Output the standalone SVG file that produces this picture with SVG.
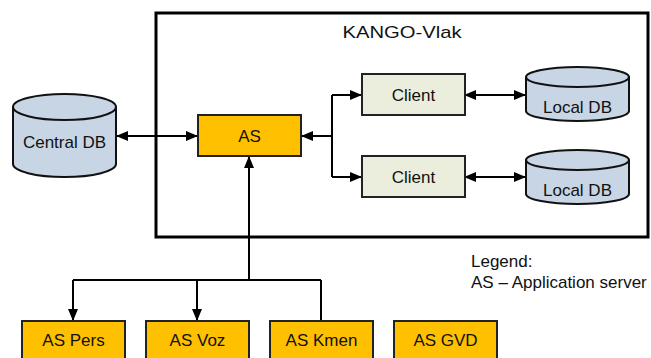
<svg xmlns="http://www.w3.org/2000/svg" width="651" height="358" viewBox="0 0 651 358">
<style>
text{font-family:"Liberation Sans",Arial,sans-serif;font-size:17px;fill:#111;}
.c{text-anchor:middle;}
.as{fill:#FFC000;stroke:#222;stroke-width:2;}
.cl{fill:#EBEEDC;stroke:#222;stroke-width:2;}
.db{fill:#C8D5E5;stroke:#111;stroke-width:2;}
.ln{fill:none;stroke:#000;stroke-width:2;}
</style>
<defs>
<marker id="ah" markerUnits="userSpaceOnUse" markerWidth="12" markerHeight="10" refX="11" refY="5" orient="auto-start-reverse">
<path d="M0,0 L12,5 L0,10 z" fill="#000"/>
</marker>
</defs>
<rect id="frame" x="156" y="13" width="492" height="224" fill="#fff" stroke="#000" stroke-width="3"/>
<text x="402" y="38" class="c" font-size="19" textLength="119" lengthAdjust="spacingAndGlyphs">KANGO-Vlak</text>
<g id="connectors">
<path class="ln" d="M117,136 L197,136" marker-start="url(#ah)" marker-end="url(#ah)"/>
<path class="ln" d="M332,136 L302,136" marker-end="url(#ah)"/>
<path class="ln" d="M332,95 L332,177"/>
<path class="ln" d="M332,95 L361,95" marker-end="url(#ah)"/>
<path class="ln" d="M332,177 L361,177" marker-end="url(#ah)"/>
<path class="ln" d="M465,95 L525,95" marker-start="url(#ah)" marker-end="url(#ah)"/>
<path class="ln" d="M465,177 L525,177" marker-start="url(#ah)" marker-end="url(#ah)"/>
<path class="ln" d="M249,280 L249,157" marker-end="url(#ah)"/>
<path class="ln" d="M73,280 L321,280"/>
<path class="ln" d="M73,280 L73,320" marker-end="url(#ah)"/>
<path class="ln" d="M197,280 L197,320" marker-end="url(#ah)"/>
<path class="ln" d="M321,280 L321,321"/>
</g>
<g id="central-db">
<path class="db" d="M13,107 L13,164 A51.5,13 0 0 0 116,164 L116,107 A51.5,13 0 0 0 13,107 Z"/>
<path class="db" d="M13,107 A51.5,13 0 0 0 116,107" fill="none"/>
<text x="64.5" y="148" class="c">Central DB</text>
</g>
<g id="as">
<rect class="as" x="198" y="115" width="103" height="41"/>
<text x="249.5" y="142" class="c">AS</text>
</g>
<g id="client1">
<rect class="cl" x="362" y="74" width="103" height="41"/>
<text x="413.5" y="101" class="c">Client</text>
</g>
<g id="client2">
<rect class="cl" x="362" y="156" width="103" height="41"/>
<text x="413.5" y="183" class="c">Client</text>
</g>
<g id="localdb1">
<path class="db" d="M526,77 L526,111 A51.5,10 0 0 0 629,111 L629,77 A51.5,10 0 0 0 526,77 Z"/>
<path class="db" d="M526,77 A51.5,10 0 0 0 629,77" fill="none"/>
<text x="577.5" y="113" class="c">Local DB</text>
</g>
<g id="localdb2">
<path class="db" d="M526,160 L526,194 A51.5,10 0 0 0 629,194 L629,160 A51.5,10 0 0 0 526,160 Z"/>
<path class="db" d="M526,160 A51.5,10 0 0 0 629,160" fill="none"/>
<text x="577.5" y="196" class="c">Local DB</text>
</g>
<g id="as-pers">
<rect class="as" x="22" y="321" width="103" height="42"/>
<text x="73.5" y="346" class="c">AS Pers</text>
</g>
<g id="as-voz">
<rect class="as" x="146" y="321" width="103" height="42"/>
<text x="197.5" y="346" class="c">AS Voz</text>
</g>
<g id="as-kmen">
<rect class="as" x="270" y="321" width="103" height="42"/>
<text x="321.5" y="346" class="c">AS Kmen</text>
</g>
<g id="as-gvd">
<rect class="as" x="394" y="321" width="103" height="42"/>
<text x="445.5" y="346" class="c">AS GVD</text>
</g>
<g id="legend">
<text x="471" y="267">Legend:</text>
<text x="471" y="288">AS – Application server</text>
</g>
</svg>
